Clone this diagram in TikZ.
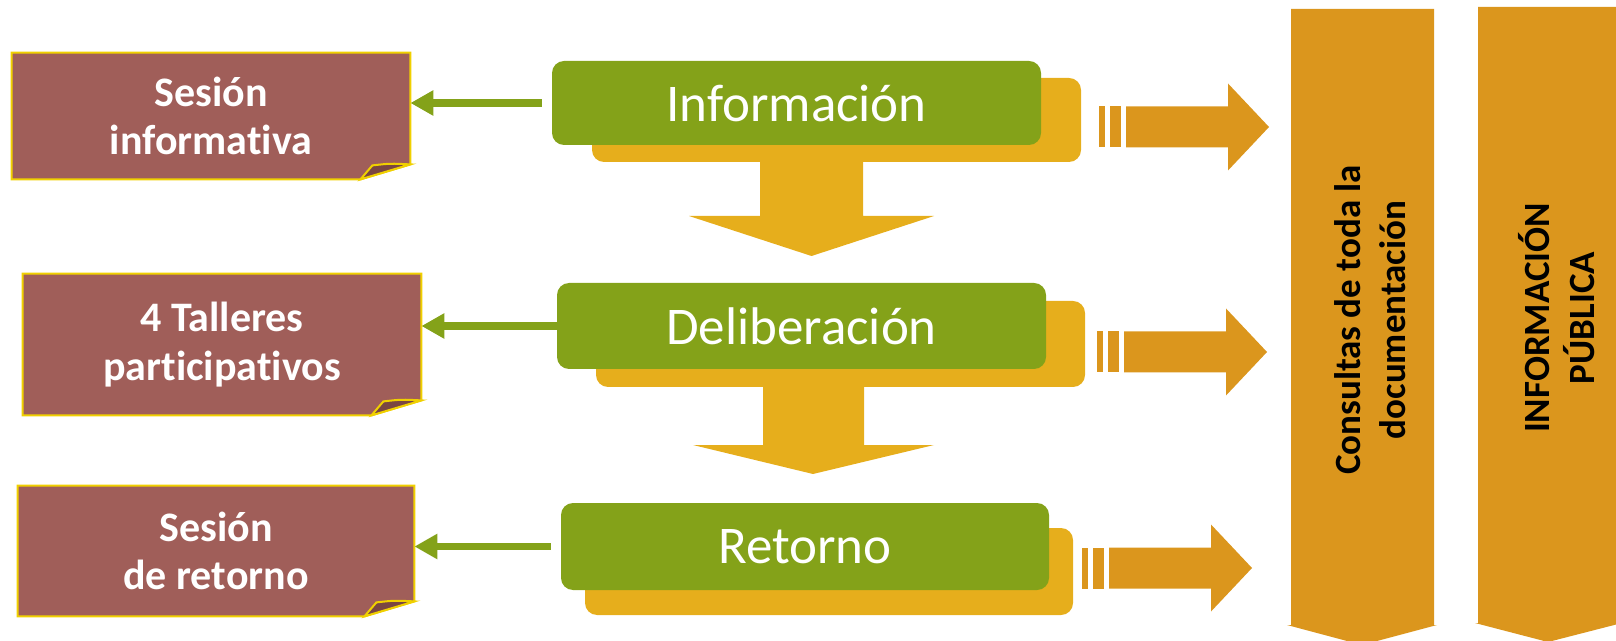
\documentclass[tikz,border=0pt]{standalone}
\usepackage{fontspec}
\setmainfont{Carlito}[Ligatures=NoCommon]
\usetikzlibrary{arrows.meta,shadows,backgrounds}
\definecolor{notebrown}{RGB}{160,94,89}
\definecolor{noteyellow}{RGB}{240,208,0}
\definecolor{folddark}{RGB}{122,70,66}
\definecolor{stepgreen}{RGB}{132,162,25}
\definecolor{shadeyellow}{RGB}{230,174,28}
\definecolor{blockorange}{RGB}{219,150,29}
\begin{document}
\begin{tikzpicture}[x=0.5pt,y=-0.5pt,
    phase/.style={fill=stepgreen, rounded corners=6pt, text=white, font=\fontsize{26.5}{30}\selectfont, minimum width=244.5pt, inner sep=0pt},
    note/.style={text=white, font=\bfseries\fontsize{21}{24.3}\selectfont, align=center, inner sep=0pt, minimum width=199pt},
    column/.style={rotate=90, font=\bfseries\fontsize{18.5}{22.5}\selectfont, align=center},
    link/.style={draw=stepgreen, line width=3.85pt, -{Triangle[length=11.5pt,width=12pt]}}]
\useasboundingbox (0,0) rectangle (1616,641);
\clip (0,0) rectangle (1616,641);
% columns
\fill[blockorange] (1291,9) -- (1434,9) -- (1434,625) -- (1437,625) -- (1362,645) -- (1287,625) -- (1291,625) -- cycle;
\fill[blockorange] (1478,7) -- (1619,7) -- (1619,623) -- (1622,623) -- (1548,642) -- (1475,623) -- (1478,623) -- cycle;
\node[column] (consultas) at (1370,320) {Consultas de toda la\\documentación};
\node[column] (publica) at (1557,318) {INFORMACIÓN\\PÚBLICA};
% striped arrows
\foreach \x/\y in {1099/127,1097/352,1082/568}{
  \fill[blockorange] (\x,\y-20.5) rectangle +(6,41);
  \fill[blockorange] (\x+11,\y-20.5) rectangle +(11,41);
  \fill[blockorange] (\x+27,\y-20.5) -- (\x+129,\y-20.5) -- (\x+129,\y-43.5) -- (\x+170,\y) -- (\x+129,\y+43.5) -- (\x+129,\y+20.5) -- (\x+27,\y+20.5) -- cycle;
}
% down arrows
\fill[shadeyellow] (760,160) -- (863,160) -- (863,216) -- (934,216) -- (811.5,256) -- (689,216) -- (760,216) -- cycle;
\fill[shadeyellow] (763,382) -- (864,382) -- (864,445) -- (934,445) -- (813,474) -- (693,445) -- (763,445) -- cycle;
% phases
\node[phase, minimum height=42pt, general shadow={fill=shadeyellow, shadow xshift=20pt, shadow yshift=-8.5pt}] (info) at (796.5,103) {Información};
\node[phase, minimum height=43pt, general shadow={fill=shadeyellow, shadow xshift=19.5pt, shadow yshift=-9pt}] (delib) at (801.5,326) {Deliberación};
\node[phase, minimum height=43.5pt, minimum width=244pt, general shadow={fill=shadeyellow, shadow xshift=12pt, shadow yshift=-12.5pt}] (retorno) at (805,546.5) {Retorno};
% notes
\node[note, minimum height=63pt] (sesion) at (211,116) {Sesión\\informativa};
\node[note, minimum height=70.5pt] (talleres) at (222,344.5) {4 Talleres\\participativos};
\node[note, minimum height=65pt, minimum width=198pt] (retsesion) at (216,551) {Sesión\\de retorno};
\begin{scope}[on background layer]
\foreach \b in {sesion,talleres,retsesion}{
  \filldraw[fill=notebrown, draw=noteyellow, line width=1pt] (\b.north west) -- (\b.north east) -- ([yshift=7.5pt]\b.south east) -- ([xshift=-25pt]\b.south east) -- (\b.south west) -- cycle;
  \filldraw[fill=folddark, draw=noteyellow, line width=1pt] ([xshift=-25pt]\b.south east) -- ([xshift=-19pt,yshift=7pt]\b.south east) .. controls ([xshift=-10pt,yshift=8pt]\b.south east) .. ([yshift=7.5pt]\b.south east) -- cycle;
}
\end{scope}
% links
\draw[link] ([xshift=-5pt]info.west) -- (info.west -| sesion.east);
\draw[link] (delib.west) -- (delib.west -| talleres.east);
\draw[link] ([xshift=-5pt]retorno.west) -- (retorno.west -| retsesion.east);
\end{tikzpicture}
\end{document}
